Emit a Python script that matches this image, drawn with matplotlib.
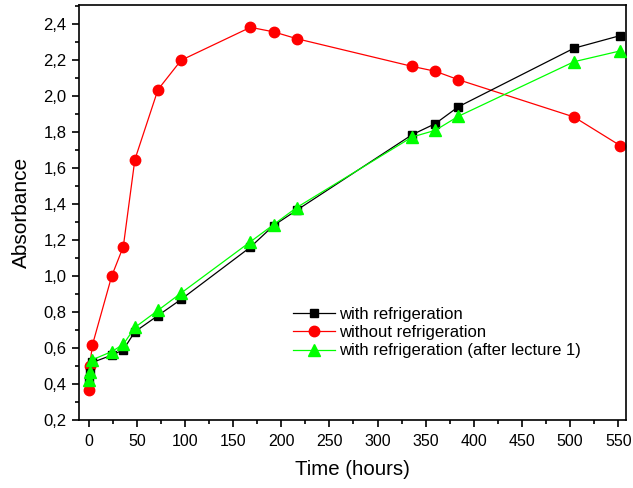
import numpy as np
import matplotlib
matplotlib.use("Agg")
import matplotlib.pyplot as plt
from matplotlib.ticker import MultipleLocator, FuncFormatter

plt.rcParams['font.family'] = ['Liberation Sans', 'DejaVu Sans']

# with refrigeration
t_ref = [0, 1, 4, 24, 36, 48, 72, 96, 168, 192, 216, 336, 360, 384, 504, 552]
a_ref = [0.43, 0.46, 0.52, 0.56, 0.59, 0.69, 0.78, 0.87, 1.16, 1.28, 1.365,
         1.785, 1.846, 1.94, 2.265, 2.335]

# without refrigeration
t_noref = [0, 1, 4, 24, 36, 48, 72, 96, 168, 192, 216, 336, 360, 384, 504, 552]
a_noref = [0.364, 0.498, 0.618, 1.0, 1.163, 1.646, 2.035, 2.198, 2.381, 2.356,
           2.318, 2.164, 2.137, 2.09, 1.883, 1.724]

# with refrigeration (after lecture 1)
t_lec = [0, 1, 4, 24, 36, 48, 72, 96, 168, 192, 216, 336, 360, 384, 504, 552]
a_lec = [0.42, 0.465, 0.535, 0.58, 0.62, 0.714, 0.809, 0.905, 1.19, 1.285, 1.38,
         1.772, 1.809, 1.887, 2.19, 2.25]

fig = plt.figure(figsize=(6.33, 4.88), dpi=100)
ax = fig.add_axes([79 / 633, 1 - 420 / 488, (626 - 79) / 633, (420 - 5) / 488])

ax.plot(t_ref, a_ref, color='black', lw=0.9, marker='s', ms=6,
        label='with refrigeration', zorder=3)
ax.plot(t_noref, a_noref, color='#ff0000', lw=0.9, marker='o', ms=7.5,
        label='without refrigeration', zorder=2)
ax.plot(t_lec, a_lec, color='#00ff00', lw=0.9, marker='^', ms=8,
        label='with refrigeration (after lecture 1)', zorder=4)

ax.set_xlim(-10, 558)
ax.set_ylim(0.2, 2.505)
ax.xaxis.set_major_locator(MultipleLocator(50))
ax.xaxis.set_minor_locator(MultipleLocator(25))
ax.yaxis.set_major_locator(MultipleLocator(0.2))
ax.yaxis.set_minor_locator(MultipleLocator(0.1))
ax.yaxis.set_major_formatter(FuncFormatter(lambda v, p: f"{v:.1f}".replace('.', ',')))

ax.tick_params(which='both', direction='out', width=1.2)
ax.tick_params(which='major', length=5)
ax.tick_params(which='minor', length=3)
ax.tick_params(axis='x', labelsize=11.5, pad=5)
ax.tick_params(axis='y', labelsize=12, pad=4)
for s in ax.spines.values():
    s.set_linewidth(1.2)

ax.set_xlabel('Time (hours)', fontsize=14.7, labelpad=8)
ax.set_ylabel('Absorbance', fontsize=15, labelpad=9)

ax.legend(loc='upper left', bbox_to_anchor=(0.391, 0.273), frameon=False,
          fontsize=12, handlelength=2.5, handletextpad=0.25, labelspacing=0.2,
          borderpad=0, borderaxespad=0)

fig.savefig('out.png', dpi=100)
